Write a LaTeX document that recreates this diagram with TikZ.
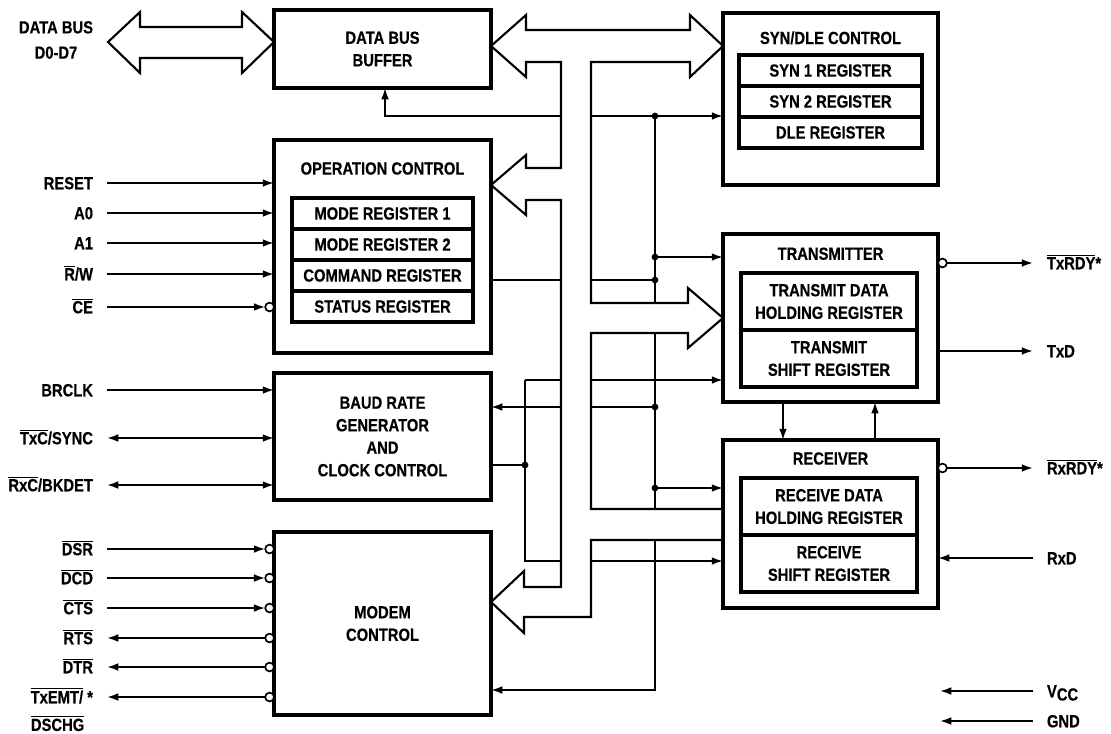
\documentclass[tikz,border=0pt]{standalone}
\usepackage{fontspec}
\setmainfont{Liberation Sans}[FakeStretch=0.84, FakeBold=0.4]
\usetikzlibrary{arrows.meta,positioning}

\newcommand{\ovl}[1]{$\overline{\mbox{#1}}$}

\begin{document}
\begin{tikzpicture}[x=0.025cm, y=-0.025cm,
  font=\fontsize{12.5}{16}\selectfont\bfseries,
  blockbox/.style={draw, line width=2.4pt, anchor=north west,
    inner sep=0pt, outer sep=0pt, align=center},
  regbox/.style={draw, line width=2.4pt, minimum width=#1,
    minimum height=0.775cm, inner sep=0pt, outer sep=0pt, align=center},
  regbox/.default=4.55cm,
  blocktitle/.style={inner sep=0pt, align=center},
  pinlbl/.style={inner ysep=0pt, inner xsep=0pt, outer xsep=0.35cm,
    text height=8.9pt, text depth=0pt},
  bubble/.style={circle, draw, line width=1.2pt, fill=white,
    minimum size=0.22cm, inner sep=0pt, outer sep=0pt},
  sig/.style={line width=1.3pt},
  conn/.style={sig, -{Latex[length=8pt,width=5.5pt]}},
  conn2/.style={sig, {Latex[length=8pt,width=5.5pt]}-{Latex[length=8pt,width=5.5pt]}},
  bus/.style={line width=1.5pt, fill=white, line join=miter},
  junction/.style={circle, fill, minimum size=0.17cm, inner sep=0pt}
]
\useasboundingbox (0,0) rectangle (1111,733);

% left column of blocks
\node[blockbox, minimum width=5.425cm, minimum height=1.95cm]  (dbb) at (274,10)  {DATA BUS\\BUFFER};
\node[blockbox, minimum width=5.425cm, minimum height=5.325cm] (opc) at (274,140) {};
\node[blockbox, minimum width=5.425cm, minimum height=3.175cm] (brg) at (274,373) {BAUD RATE\\GENERATOR\\AND\\CLOCK CONTROL};
\node[blockbox, minimum width=5.425cm, minimum height=4.575cm] (mdm) at (274,532) {MODEM\\CONTROL};

\node[blocktitle, below=0.55cm of opc.north] (topc) {OPERATION CONTROL};
\node[regbox=4.525cm, anchor=north west] (mr1) at (292,198) {MODE REGISTER 1};
\node[regbox=4.525cm, below=0pt of mr1] (mr2) {MODE REGISTER 2};
\node[regbox=4.525cm, below=0pt of mr2] (cmdr) {COMMAND REGISTER};
\node[regbox=4.525cm, below=0pt of cmdr] (str) {STATUS REGISTER};

% right column of blocks
\node[blockbox, minimum width=5.375cm, minimum height=4.3cm] (syn) at (723,13)  {};
\node[blockbox, minimum width=5.375cm, minimum height=4.2cm] (tx)  at (723,234) {};
\node[blockbox, minimum width=5.375cm, minimum height=4.2cm] (rx)  at (723,440) {};

\node[blocktitle, below=0.45cm of syn.north] (tsyn) {SYN/DLE CONTROL};
\node[regbox=4.575cm, anchor=north west] (syn1) at (739,55) {SYN 1 REGISTER};
\node[regbox=4.575cm, below=0pt of syn1] (syn2) {SYN 2 REGISTER};
\node[regbox=4.575cm, below=0pt of syn2] (dler) {DLE REGISTER};

\node[blocktitle, below=0.33cm of tx.north] (ttx) {TRANSMITTER};
\node[regbox=4.4cm, minimum height=1.425cm, anchor=north west] (tdh) at (741,273) {TRANSMIT DATA\\HOLDING REGISTER};
\node[regbox=4.4cm, minimum height=1.425cm, below=0pt of tdh] (tsr) {TRANSMIT\\SHIFT REGISTER};

\node[blocktitle, below=0.3cm of rx.north] (trx) {RECEIVER};
\node[regbox=4.4cm, minimum height=1.425cm, anchor=north west] (rdh) at (741,478) {RECEIVE DATA\\HOLDING REGISTER};
\node[regbox=4.4cm, minimum height=1.425cm, below=0pt of rdh] (rsr) {RECEIVE\\SHIFT REGISTER};

\draw[conn] (tx.south -| 783,0) -- (rx.north -| 783,0);
\draw[conn] (rx.north -| 875,0) -- (tx.south -| 875,0);

% external data bus
\node[align=center, inner sep=0pt] (ldbus) at (56,40) {DATA BUS\\[2pt]D0-D7};
\draw[bus] (108,42) -- (140,12) -- (140,27) -- (242,27) -- (242,12) -- (dbb.west |- 0,42)
  -- (242,73) -- (242,58) -- (140,58) -- (140,73) -- cycle;

% left pins
\node[pinlbl, anchor=east] (lreset) at (107,183) {RESET};
\node[pinlbl, anchor=east] (la0)    at (107,213) {A0};
\node[pinlbl, anchor=east] (la1)    at (107,243) {A1};
\node[pinlbl, anchor=east] (lrw)    at (107,274) {\ovl{R}/W};
\node[pinlbl, anchor=east] (lce)    at (107,307) {\ovl{CE}};
\node[pinlbl, anchor=east] (lbrclk) at (107,390) {BRCLK};
\node[pinlbl, anchor=east] (ltxc)   at (107,438) {\ovl{TxC}/SYNC};
\node[pinlbl, anchor=east] (lrxc)   at (107,485) {\ovl{RxC}/BKDET};
\node[pinlbl, anchor=east] (ldsr)   at (107,549) {\ovl{DSR}};
\node[pinlbl, anchor=east] (ldcd)   at (107,578) {\ovl{DCD}};
\node[pinlbl, anchor=east] (lcts)   at (107,608) {\ovl{CTS}};
\node[pinlbl, anchor=east] (lrts)   at (107,638) {\ovl{RTS}};
\node[pinlbl, anchor=east] (ldtr)   at (107,667) {\ovl{DTR}};
\node[pinlbl, anchor=east] (ltxemt) at (107,697) {\ovl{TxEMT/} *};
\node[inner sep=0pt, anchor=north west] (ldschg) at ([xshift=0.35cm, yshift=-0.3cm]ltxemt.south west) {\ovl{DSCHG}};

\draw[conn] (lreset.east) -- (lreset.east -| opc.west);
\draw[conn] (la0.east) -- (la0.east -| opc.west);
\draw[conn] (la1.east) -- (la1.east -| opc.west);
\draw[conn] (lrw.east) -- (lrw.east -| opc.west);
\node[bubble, anchor=east] (bce) at (lce -| opc.west) {};
\draw[conn] (lce.east) -- (bce.west);

\draw[conn] (lbrclk.east) -- (lbrclk.east -| brg.west);
\draw[conn2] (ltxc.east) -- (ltxc.east -| brg.west);
\draw[conn2] (lrxc.east) -- (lrxc.east -| brg.west);

\node[bubble, anchor=east] (bdsr)   at (ldsr -| mdm.west) {};
\node[bubble, anchor=east] (bdcd)   at (ldcd -| mdm.west) {};
\node[bubble, anchor=east] (bcts)   at (lcts -| mdm.west) {};
\node[bubble, anchor=east] (brts)   at (lrts -| mdm.west) {};
\node[bubble, anchor=east] (bdtr)   at (ldtr -| mdm.west) {};
\node[bubble, anchor=east] (btxemt) at (ltxemt -| mdm.west) {};
\draw[conn] (ldsr.east) -- (bdsr.west);
\draw[conn] (ldcd.east) -- (bdcd.west);
\draw[conn] (lcts.east) -- (bcts.west);
\draw[conn] (brts.west) -- (lrts.east);
\draw[conn] (bdtr.west) -- (ldtr.east);
\draw[conn] (btxemt.west) -- (ltxemt.east);

% right pins
\node[pinlbl, anchor=west] (ltxrdy) at (1033,263) {\ovl{TxRDY}*};
\node[pinlbl, anchor=west] (ltxd)   at (1033,351) {TxD};
\node[pinlbl, anchor=west] (lrxrdy) at (1033,468) {\ovl{RxRDY}*};
\node[pinlbl, anchor=west] (lrxd)   at (1033,558) {RxD};
\node[pinlbl, anchor=west] (lvcc)   at (1033,691) {V\raisebox{-0.35ex}{CC}};
\node[pinlbl, anchor=west] (lgnd)   at (1033,721) {GND};
\coordinate (pwr) at (940,0);

\node[bubble, anchor=west] (btxrdy) at (ltxrdy -| tx.east) {};
\node[bubble, anchor=west] (brxrdy) at (lrxrdy -| rx.east) {};
\draw[conn] (btxrdy.east) -- (ltxrdy.west);
\draw[conn] (ltxd.west -| tx.east) -- (ltxd.west);
\draw[conn] (brxrdy.east) -- (lrxrdy.west);
\draw[conn] (lrxd.west) -- (lrxd.west -| rx.east);
\draw[conn] (lvcc.west) -- (lvcc.west -| pwr);
\draw[conn] (lgnd.west) -- (lgnd.west -| pwr);

% internal control lines
\coordinate (tapN) at (655,116);
\coordinate (tapS) at (655,690);
\coordinate (clkN) at (525,380);
\coordinate (clkS) at (525,561);

\draw[conn] (561,116) -| (dbb.south -| 385,0);
\draw[conn] (591,116) -- (syn.west |- tapN);
\draw[conn] (tapN) -- (tapS) -- (mdm.east |- tapS);
\draw[conn] (655,257) -- (tx.west |- 0,257);
\draw[sig]  (opc.east |- 0,280) -- (655,280);
\draw[conn] (clkN) -- (tx.west |- clkN);
\draw[conn] (clkN) -- (clkS) -- (rx.west |- clkS);
\draw[conn] (655,407) -- (brg.east |- 0,407);
\draw[sig]  (brg.east |- 0,465) -- (525,465);
\draw[conn] (655,488) -- (rx.west |- 0,488);

% internal bus
\draw[bus] (721,540) -- (591,540) -- (591,617) -- (524,617) -- (524,633) -- (mdm.east |- 0,602)
  -- (524,571) -- (524,587) -- (561,587) -- (561,200) -- (526,200) -- (526,215)
  -- (opc.east |- 0,185) -- (526,155) -- (526,168) -- (561,168) -- (561,62) -- (526,62)
  -- (526,77) -- (dbb.east |- 0,46) -- (526,15) -- (526,30) -- (690,30) -- (690,15)
  -- (syn.west |- 0,46) -- (690,77) -- (690,62) -- (591,62) -- (591,303) -- (688,303)
  -- (688,288) -- (tx.west |- 0,318) -- (688,348) -- (688,333) -- (591,333) -- (591,509)
  -- (721,509);

\node[junction] (j1) at (tapN) {};
\node[junction] (j2) at (655,257) {};
\node[junction] (j3) at (655,280) {};
\node[junction] (j4) at (655,407) {};
\node[junction] (j5) at (655,488) {};
\node[junction] (j6) at (525,465) {};
\end{tikzpicture}
\end{document}
